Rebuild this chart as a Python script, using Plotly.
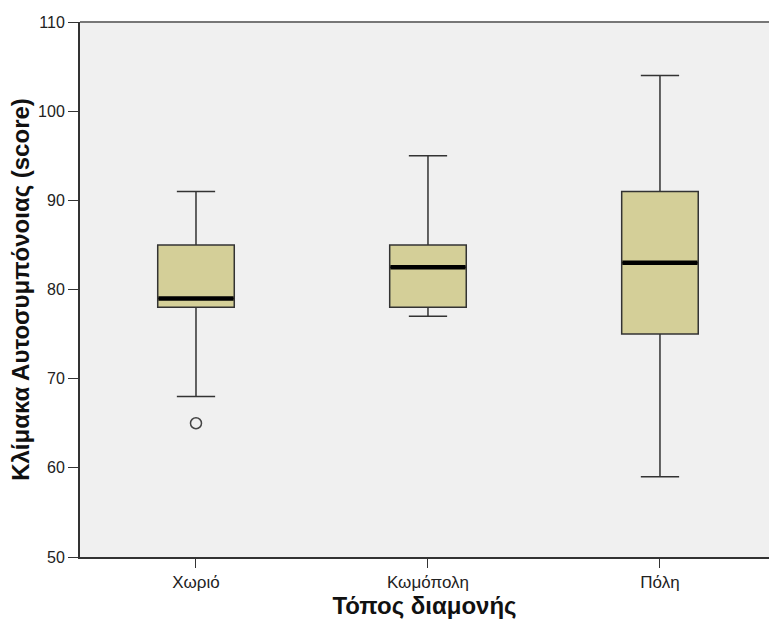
import plotly.graph_objects as go

categories = ["Χωριό", "Κωμόπολη", "Πόλη"]
lower_whisker = [68, 77, 59]
q1 = [78, 78, 75]
median = [79, 82.5, 83]
q3 = [85, 85, 91]
upper_whisker = [91, 95, 104]
outlier_cat = [0]
outlier_val = [65]

y_ticks = [50, 60, 70, 80, 90, 100, 110]

box_w = 0.33
fill = "#d4cf98"
edge = "#333333"

fig = go.Figure()
for i, c in enumerate(categories):
    fig.add_trace(go.Box(
        x=[i], q1=[q1[i]], median=[median[i]], q3=[q3[i]],
        lowerfence=[lower_whisker[i]], upperfence=[upper_whisker[i]],
        width=box_w, whiskerwidth=0.5,
        fillcolor=fill, line=dict(color=edge, width=1.5),
        boxpoints=False, showlegend=False, hoverinfo="skip",
    ))
    fig.add_trace(go.Scatter(
        x=[i - box_w / 2 + 0.003, i + box_w / 2 - 0.003], y=[median[i], median[i]],
        mode="lines", line=dict(color="black", width=4.5),
        showlegend=False, hoverinfo="skip",
    ))

fig.add_trace(go.Scatter(
    x=outlier_cat, y=outlier_val, mode="markers",
    marker=dict(symbol="circle-open", size=11, color="#444444", line=dict(width=1.5)),
    showlegend=False, hoverinfo="skip",
))

fig.add_shape(type="line", xref="paper", yref="paper", x0=0, x1=1, y0=1, y1=1,
              line=dict(color="#777777", width=2))

fig.update_layout(
    width=769, height=622,
    margin=dict(l=80, r=0, t=22, b=65),
    paper_bgcolor="white", plot_bgcolor="#f0f0f0",
    font=dict(family="Liberation Sans, Arial, sans-serif", size=12, color="#222222"),
    xaxis=dict(
        range=[-0.5, 2.47], tickmode="array", tickvals=list(range(len(categories))),
        ticktext=categories, showgrid=False, zeroline=False,
        showline=True, linecolor="#333333", linewidth=2,
        ticks="outside", ticklen=9, tickcolor="#333333", tickwidth=1,
        tickfont=dict(size=17, color="#222222"),
        title=dict(text="<b>Τόπος διαμονής</b>", font=dict(size=24, color="#111111"), standoff=1),
    ),
    yaxis=dict(
        range=[50, 110], tickmode="array", tickvals=y_ticks, showgrid=False, zeroline=False,
        showline=True, linecolor="#333333", linewidth=2,
        ticks="outside", ticklen=10, tickcolor="#333333", tickwidth=1,
        tickfont=dict(size=16, color="#222222"),
        title=dict(text="<b>Κλίμακα Αυτοσυμπόνοιας (score)</b>", font=dict(size=24, color="#111111"), standoff=2),
    ),
)

fig.write_html("out.html")
